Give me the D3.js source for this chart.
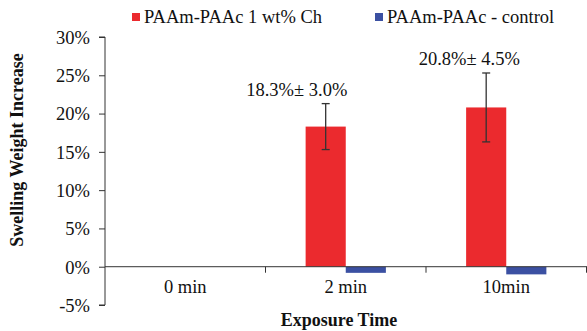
<!DOCTYPE html>
<html><head><meta charset="utf-8">
<script src="https://cdn.jsdelivr.net/npm/d3@7"></script>
<style>body{margin:0;background:#fff}svg{display:block}</style>
</head><body>
<script>
const categories = ["0 min", "2 min", "10min"];
const seriesNames = ["PAAm-PAAc 1 wt% Ch", "PAAm-PAAc - control"];
const chValues = [null, 18.3, 20.8];
const chErrors = [null, 3.0, 4.5];
const controlValues = [null, -0.8, -1.0];
const annotations = ["", "18.3%\u00b1 3.0%", "20.8%\u00b1 4.5%"];
const annotationDx = [0, -49, -37];
const yTicks = [-5, 0, 5, 10, 15, 20, 25, 30];
const colors = ["#EB2A2E", "#3B50A2"];
const FONT = "'Liberation Serif', 'Times New Roman', Times, 'DejaVu Serif', serif";
const FS = 18.5;

const W = 587, H = 331;
const svg = d3.select("body").append("svg").attr("width", W).attr("height", H)
  .style("font-family", FONT);
const x = d3.scaleBand().domain(categories).range([105, 586.5]).padding(0);
const xs = d3.scaleBand().domain([0, 1]).range([0, x.bandwidth()]).paddingInner(0).paddingOuter(1);
const y = d3.scaleLinear().domain([-5, 30]).range([305, 37]);

// y axis
const ya = svg.append("g").attr("transform", "translate(105,0)")
  .call(d3.axisLeft(y).tickValues(yTicks).tickFormat(d => d + "%").tickSize(6).tickPadding(9));
ya.attr("font-family", null);
ya.select(".domain").attr("stroke", "#333").attr("d", `M-6,${y(30)}H0V${y(-5)}H-6`);
ya.selectAll(".tick line").attr("stroke", "#333");
ya.selectAll(".tick text").attr("font-size", FS).attr("fill", "#111").attr("dy", "0.34em").style("font-family", FONT);

// bars
const data = categories.map((c, i) => ({c, i}));
svg.selectAll("rect.ch").data(data.filter(d => chValues[d.i] != null)).join("rect")
  .attr("x", d => x(d.c) + xs(0)).attr("width", xs.bandwidth())
  .attr("y", d => y(Math.max(0, chValues[d.i]))).attr("height", d => Math.abs(y(chValues[d.i]) - y(0)))
  .attr("fill", colors[0]);
svg.selectAll("rect.ctl").data(data.filter(d => controlValues[d.i] != null)).join("rect")
  .attr("x", d => x(d.c) + xs(1)).attr("width", xs.bandwidth())
  .attr("y", d => y(Math.max(0, controlValues[d.i]))).attr("height", d => Math.abs(y(controlValues[d.i]) - y(0)))
  .attr("fill", colors[1]);

// x axis
const xa = svg.append("g").attr("transform", `translate(0,${y(0)})`);
xa.append("line").attr("x1", 105).attr("x2", 587).attr("stroke", "#333");
xa.selectAll("line.t").data(categories).join("line")
  .attr("x1", d => x(d) + x.bandwidth()).attr("x2", d => x(d) + x.bandwidth())
  .attr("y1", 0).attr("y2", 6).attr("stroke", "#333");
svg.selectAll("text.cat").data(categories).join("text")
  .attr("x", d => x(d) + x.bandwidth() / 2).attr("y", 293)
  .attr("text-anchor", "middle").attr("font-size", FS).attr("fill", "#111").text(d => d);

// error bars
const eb = data.filter(d => chErrors[d.i] != null);
const cx = d => x(d.c) + xs(0) + xs.bandwidth() / 2;
svg.selectAll("line.eb").data(eb).join("line")
  .attr("x1", cx).attr("x2", cx)
  .attr("y1", d => y(chValues[d.i] + chErrors[d.i])).attr("y2", d => y(chValues[d.i] - chErrors[d.i]))
  .attr("stroke", "#333").attr("stroke-width", 1.3);
[1, -1].forEach(s => {
  svg.selectAll("line.cap" + (s > 0 ? "u" : "d")).data(eb).join("line")
    .attr("x1", d => cx(d) - 4).attr("x2", d => cx(d) + 4)
    .attr("y1", d => y(chValues[d.i] + s * chErrors[d.i])).attr("y2", d => y(chValues[d.i] + s * chErrors[d.i]))
    .attr("stroke", "#333").attr("stroke-width", 1.3);
});

// annotations
svg.selectAll("text.ann").data(eb).join("text")
  .attr("x", d => x(d.c) + x.bandwidth() / 2 + annotationDx[d.i])
  .attr("y", d => y(chValues[d.i] + chErrors[d.i]) - 8)
  .attr("text-anchor", "middle").attr("font-size", FS).attr("fill", "#111")
  .text(d => annotations[d.i]);

// legend
const legX = [132, 375];
seriesNames.forEach((n, i) => {
  svg.append("rect").attr("x", legX[i]).attr("y", 13).attr("width", 8).attr("height", 8).attr("fill", colors[i]);
  svg.append("text").attr("x", legX[i] + 12).attr("y", 23).attr("font-size", FS).attr("fill", "#111").text(n);
});

// axis titles
svg.append("text").attr("transform", "translate(23,150) rotate(-90)").attr("text-anchor", "middle")
  .attr("font-size", 18).attr("font-weight", "bold").attr("fill", "#111").text("Swelling Weight Increase");
svg.append("text").attr("x", 339).attr("y", 326).attr("text-anchor", "middle")
  .attr("font-size", 18).attr("font-weight", "bold").attr("fill", "#111").text("Exposure Time");
</script>
</body></html>
